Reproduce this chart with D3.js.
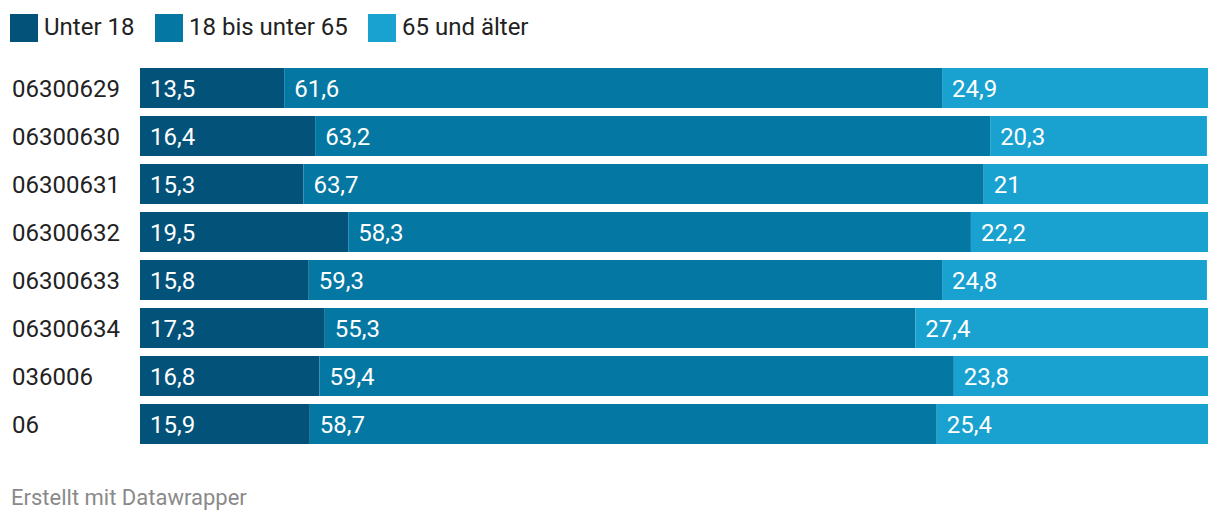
<!DOCTYPE html>
<html><head><meta charset="utf-8">
<script src="https://cdn.jsdelivr.net/npm/d3@7"></script>
<style>body{margin:0;background:#fff;font-family:Roboto,sans-serif;}</style>
</head><body><svg id="c" width="1220" height="522"></svg>
<script>
const categories = ["06300629","06300630","06300631","06300632","06300633","06300634","036006","06"];
const seriesNames = ["Unter 18","18 bis unter 65","65 und älter"];
const unter18 = [13.5,16.4,15.3,19.5,15.8,17.3,16.8,15.9];
const mittel = [61.6,63.2,63.7,58.3,59.3,55.3,59.4,58.7];
const aelter = [24.9,20.3,21,22.2,24.8,27.4,23.8,25.4];
const colors = ["#03527a","#0478a2","#19a1cf"];
const footer = "Erstellt mit Datawrapper";

const svg = d3.select("#c");
const x = d3.scaleLinear().domain([0,100]).range([140,1208]);
const y = d3.scaleBand().domain(categories).range([68,444]).paddingInner(8/48).paddingOuter(0).align(0);
const fmt = v => String(v).replace(".", ",");

// legend
const legX = [10,155,368];
seriesNames.forEach((s,i)=>{
  const g = svg.append("g");
  g.append("rect").attr("x",legX[i]).attr("y",14).attr("width",28).attr("height",28).attr("fill",colors[i]);
  g.append("text").attr("x",legX[i]+34).attr("y",35).attr("font-size",24).attr("fill","#222").text(s);
});

const series = [unter18, mittel, aelter];
categories.forEach((c,j)=>{
  const yy = y(c), h = y.bandwidth();
  svg.append("text").attr("x",12).attr("y",yy+h/2+8.5).attr("font-size",24).attr("fill","#222").text(c);
  let cum = 0;
  series.forEach((arr,i)=>{
    const v = arr[j];
    svg.append("rect").attr("x",x(cum)).attr("y",yy).attr("width",x(cum+v)-x(cum)).attr("height",h).attr("fill",colors[i]);
    svg.append("text").attr("x",x(cum)+10).attr("y",yy+h/2+8.5).attr("font-size",24).attr("fill","#fff").text(fmt(v));
    cum += v;
  });
});

svg.append("text").attr("x",11).attr("y",504.5).attr("font-size",22).attr("fill","#8a8a8a").text(footer);
</script></body></html>
